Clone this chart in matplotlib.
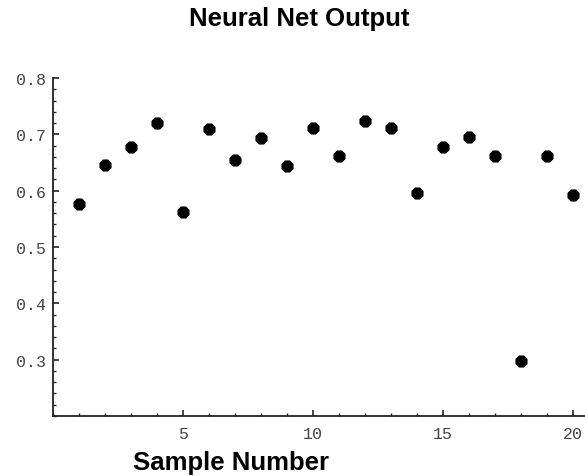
#!/usr/bin/env python3
# -*- coding: utf-8 -*-

import matplotlib
matplotlib.use("Agg")
import matplotlib.pyplot as plt
from matplotlib.ticker import MultipleLocator, FormatStrFormatter


# Номера образцов и выход нейросети
samples = list(range(1, 21))
outputs = [0.576, 0.645, 0.678, 0.720, 0.562, 0.710, 0.655, 0.693, 0.644, 0.712,
           0.662, 0.723, 0.711, 0.595, 0.678, 0.696, 0.662, 0.297, 0.661, 0.593]

x_ticks = [5, 10, 15, 20]
y_ticks = [0.3, 0.4, 0.5, 0.6, 0.7, 0.8]


if __name__ == '__main__':

    dpi = 100
    fig = plt.figure(figsize=(585 / dpi, 477 / dpi), dpi=dpi)
    ax = fig.add_axes([53 / 585, 1 - 417 / 477, 532 / 585, 338 / 477])

    ax.scatter(samples, outputs, s=70, color="black", marker="8", zorder=3)

    ax.set_xlim(0, 20.46)
    ax.set_ylim(0.2, 0.8)
    ax.spines["top"].set_visible(False)
    ax.spines["right"].set_visible(False)
    for s in ("left", "bottom"):
        ax.spines[s].set_linewidth(1.3)
        ax.spines[s].set_color("#222222")

    ax.set_xticks(x_ticks)
    ax.set_yticks(y_ticks)
    ax.xaxis.set_minor_locator(MultipleLocator(1))
    ax.yaxis.set_minor_locator(MultipleLocator(0.02))
    ax.yaxis.set_major_formatter(FormatStrFormatter("%.1f"))
    ax.tick_params(which="major", direction="in", length=4, width=1.2,
                   color="#222222", labelsize=12, labelcolor="#444444")
    ax.tick_params(axis="y", which="major", pad=5)
    ax.tick_params(axis="x", which="major", pad=7)
    ax.tick_params(which="minor", direction="in", length=2.5, width=1.0,
                   color="#222222")
    for lbl in ax.get_xticklabels() + ax.get_yticklabels():
        lbl.set_family("Liberation Mono")

    fig.text(299 / 585, 1 - 19 / 477, "Neural Net Output", ha="center",
             va="center", fontsize=18.5, fontweight="bold",
             family="Liberation Sans")
    fig.text(231 / 585, 1 - 463 / 477, "Sample Number", ha="center",
             va="center", fontsize=18.5, fontweight="bold",
             family="Liberation Sans")

    fig.savefig("out.png", dpi=dpi, facecolor="white")
